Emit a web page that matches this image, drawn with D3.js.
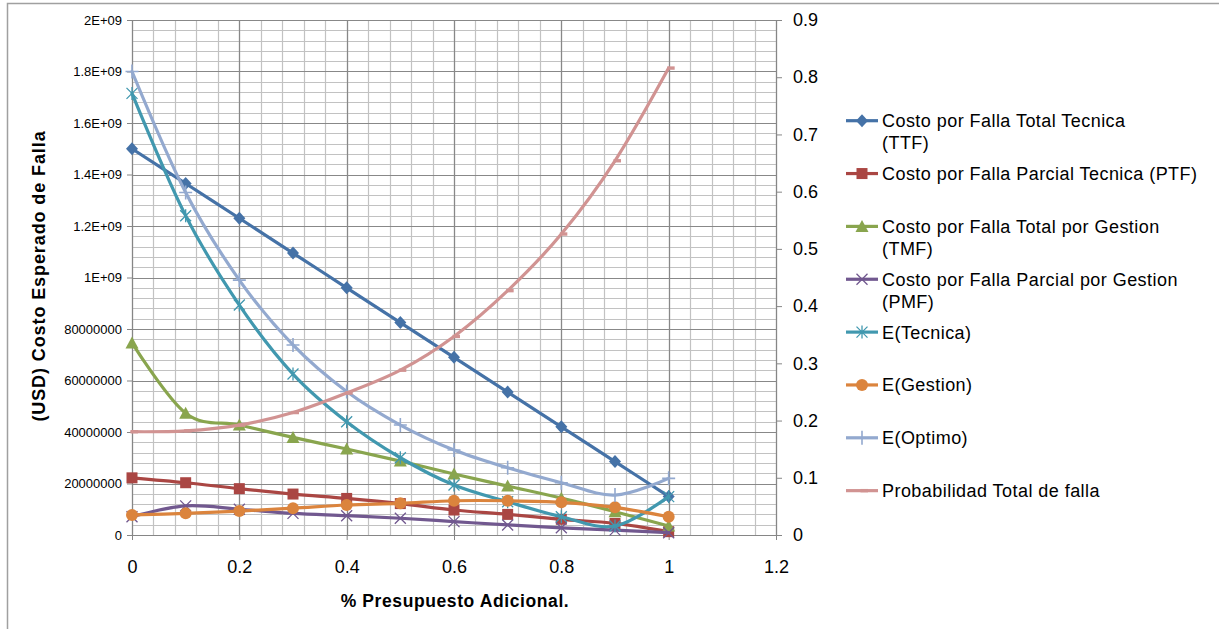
<!DOCTYPE html>
<html>
<head>
<meta charset="utf-8">
<script src="https://cdn.jsdelivr.net/npm/d3@7"></script>
<style>
  html, body { margin: 0; padding: 0; background: #fff; }
  svg { display: block; font-family: "Liberation Sans", Arial, sans-serif; }
</style>
</head>
<body>
<svg id="chart" width="1219" height="629"></svg>
<script>
// ---------- data ----------
const xValues = [0, 0.1, 0.2, 0.3, 0.4, 0.5, 0.6, 0.7, 0.8, 0.9, 1.0];

const ttf    = [1.50e9, 1.365e9, 1.23e9, 1.095e9, 0.96e9, 0.825e9, 0.69e9, 0.555e9, 0.42e9, 0.285e9, 0.15e9];
const ptf    = [2.22e8, 2.03e8, 1.80e8, 1.59e8, 1.42e8, 1.22e8, 0.97e8, 0.80e8, 0.61e8, 0.45e8, 0.13e8];
const tmf    = [7.46e8, 4.73e8, 4.27e8, 3.79e8, 3.34e8, 2.87e8, 2.37e8, 1.90e8, 1.43e8, 0.905e8, 0.35e8];
const pmf    = [0.71e8, 1.13e8, 1.00e8, 0.84e8, 0.75e8, 0.65e8, 0.52e8, 0.39e8, 0.28e8, 0.19e8, 0.09e8];
const eTec   = [1.715e9, 1.24e9, 0.893e9, 0.625e9, 0.44e9, 0.30e9, 0.194e9, 0.129e9, 0.071e9, 0.035e9, 0.149e9];
const eGes   = [0.78e8, 0.84e8, 0.93e8, 1.04e8, 1.165e8, 1.23e8, 1.33e8, 1.33e8, 1.27e8, 1.075e8, 0.71e8];
const eOpt   = [1.80e9, 1.33e9, 0.99e9, 0.738e9, 0.557e9, 0.427e9, 0.33e9, 0.261e9, 0.203e9, 0.155e9, 0.22e9];
const probTotal = [0.1805, 0.182, 0.192, 0.214, 0.248, 0.288, 0.347, 0.427, 0.526, 0.654, 0.816];

const seriesNames = [
  ["Costo por Falla Total Tecnica", "(TTF)"],
  ["Costo por Falla Parcial Tecnica (PTF)"],
  ["Costo por Falla Total por Gestion", "(TMF)"],
  ["Costo por Falla Parcial por Gestion", "(PMF)"],
  ["E(Tecnica)"],
  ["E(Gestion)"],
  ["E(Optimo)"],
  ["Probabilidad Total de falla"]
];

const leftTickValues = [0, 2e8, 4e8, 6e8, 8e8, 1e9, 1.2e9, 1.4e9, 1.6e9, 1.8e9, 2e9];
const leftTickLabels = ["0", "20000000", "40000000", "60000000", "80000000", "1E+09", "1.2E+09", "1.4E+09", "1.6E+09", "1.8E+09", "2E+09"];
const rightTickValues = [0, 0.1, 0.2, 0.3, 0.4, 0.5, 0.6, 0.7, 0.8, 0.9];
const rightTickLabels = ["0", "0.1", "0.2", "0.3", "0.4", "0.5", "0.6", "0.7", "0.8", "0.9"];
const xTickValues = [0, 0.2, 0.4, 0.6, 0.8, 1.0, 1.2];
const xTickLabels = ["0", "0.2", "0.4", "0.6", "0.8", "1", "1.2"];

const yTitle = "(USD) Costo Esperado de Falla";
const xTitle = "% Presupuesto Adicional.";

// ---------- styles ----------
const styles = [
  { color: "#4572A7", marker: "diamond", axis: "left" },
  { color: "#AA4643", marker: "square", axis: "left" },
  { color: "#89A54E", marker: "triangle", axis: "left" },
  { color: "#71588F", marker: "x", axis: "left" },
  { color: "#4198AF", marker: "star", axis: "left" },
  { color: "#DB843D", marker: "circle", axis: "left" },
  { color: "#93A9CF", marker: "plus", axis: "left" },
  { color: "#D19392", marker: "dash", axis: "right" }
];
const seriesData = [ttf, ptf, tmf, pmf, eTec, eGes, eOpt, probTotal];

// ---------- layout ----------
const svg = d3.select("#chart");
const L = 132, R = 776, T = 20, B = 535;

const x = d3.scaleLinear().domain([0, 1.2]).range([L, R]);
const yL = d3.scaleLinear().domain([0, 2e9]).range([B, T]);
const yR = d3.scaleLinear().domain([0, 0.9]).range([B, T]);

// outer frame
svg.append("rect").attr("x", 7.5).attr("y", 3.5).attr("width", 1400).attr("height", 800)
  .attr("fill", "#fff").attr("stroke", "#a0a0a0").attr("stroke-width", 1.5);

// grid
const grid = svg.append("g");
const minorX = d3.range(0, 1.2001, 0.04);
const minorY = d3.range(0, 2e9 + 1, 4e7);
grid.selectAll("line.mx").data(minorX).join("line")
  .attr("x1", d => Math.round(x(d)) + 0.5).attr("x2", d => Math.round(x(d)) + 0.5)
  .attr("y1", T).attr("y2", B).attr("stroke", "#c2c2c2").attr("stroke-width", 1.2);
grid.selectAll("line.my").data(minorY).join("line")
  .attr("y1", d => Math.round(yL(d)) + 0.5).attr("y2", d => Math.round(yL(d)) + 0.5)
  .attr("x1", L).attr("x2", R).attr("stroke", "#c2c2c2").attr("stroke-width", 1.2);
grid.selectAll("line.Mx").data(xTickValues).join("line")
  .attr("x1", d => Math.round(x(d)) + 0.5).attr("x2", d => Math.round(x(d)) + 0.5)
  .attr("y1", T).attr("y2", B).attr("stroke", "#888").attr("stroke-width", 1.2);
grid.selectAll("line.My").data(leftTickValues).join("line")
  .attr("y1", d => Math.round(yL(d)) + 0.5).attr("y2", d => Math.round(yL(d)) + 0.5)
  .attr("x1", L).attr("x2", R).attr("stroke", "#888").attr("stroke-width", 1.2);

// axes
function styleAxis(g) {
  g.selectAll(".domain").attr("stroke", "#868686");
  g.selectAll(".tick line").attr("stroke", "#868686");
  g.selectAll("text").attr("fill", "#000");
}
const axL = svg.append("g").attr("transform", `translate(${L},0)`)
  .call(d3.axisLeft(yL).tickValues(leftTickValues).tickFormat((d, i) => leftTickLabels[i]).tickSize(5).tickPadding(5).tickSizeOuter(0));
axL.attr("font-size", 13).attr("font-family", null);
styleAxis(axL);

const axR = svg.append("g").attr("transform", `translate(${R},0)`)
  .call(d3.axisRight(yR).tickValues(rightTickValues).tickFormat((d, i) => rightTickLabels[i]).tickSize(6).tickPadding(11).tickSizeOuter(0));
axR.attr("font-size", 18).attr("font-family", null);
styleAxis(axR);

const axB = svg.append("g").attr("transform", `translate(0,${B})`)
  .call(d3.axisBottom(x).tickValues(xTickValues).tickFormat((d, i) => xTickLabels[i]).tickSize(5).tickPadding(20).tickSizeOuter(0));
axB.attr("font-size", 18).attr("font-family", null);
styleAxis(axB);

// titles
svg.append("text").attr("transform", "translate(45,276) rotate(-90)")
  .attr("text-anchor", "middle").attr("font-weight", "bold").attr("font-size", 18)
  .attr("letter-spacing", 0.9).text(yTitle);
svg.append("text").attr("x", 455).attr("y", 607)
  .attr("text-anchor", "middle").attr("font-weight", "bold").attr("font-size", 17.5)
  .attr("letter-spacing", 0.6).text(xTitle);

// markers
function drawMarker(g, type, cx, cy, color) {
  switch (type) {
    case "diamond":
      g.append("path").attr("d", `M${cx},${cy-6.5}L${cx+6},${cy}L${cx},${cy+6.5}L${cx-6},${cy}Z`).attr("fill", color);
      break;
    case "square":
      g.append("rect").attr("x", cx-5.5).attr("y", cy-5.5).attr("width", 11).attr("height", 11).attr("fill", color);
      break;
    case "triangle":
      g.append("path").attr("d", `M${cx},${cy-6.5}L${cx+6.5},${cy+5.5}L${cx-6.5},${cy+5.5}Z`).attr("fill", color);
      break;
    case "x":
      g.append("path").attr("d", `M${cx-5.5},${cy-5.5}L${cx+5.5},${cy+5.5}M${cx-5.5},${cy+5.5}L${cx+5.5},${cy-5.5}`)
        .attr("stroke", color).attr("stroke-width", 1.3).attr("fill", "none");
      break;
    case "star":
      g.append("path").attr("d", `M${cx-5.5},${cy-5.5}L${cx+5.5},${cy+5.5}M${cx-5.5},${cy+5.5}L${cx+5.5},${cy-5.5}M${cx},${cy-6.5}L${cx},${cy+6.5}`)
        .attr("stroke", color).attr("stroke-width", 1.3).attr("fill", "none");
      break;
    case "circle":
      g.append("circle").attr("cx", cx).attr("cy", cy).attr("r", 6).attr("fill", color);
      break;
    case "plus":
      g.append("path").attr("d", `M${cx-6.5},${cy}L${cx+6.5},${cy}M${cx},${cy-7}L${cx},${cy+7}`)
        .attr("stroke", color).attr("stroke-width", 1.6).attr("fill", "none");
      break;
    case "dash":
      g.append("rect").attr("x", cx-1.5).attr("y", cy-1.7).attr("width", 7.5).attr("height", 3.4).attr("fill", color);
      break;
  }
}

// series
const plot = svg.append("g");
seriesData.forEach((vals, si) => {
  const st = styles[si];
  const ys = st.axis === "left" ? yL : yR;
  const pts = xValues.map((xv, i) => [x(xv), ys(vals[i])]);
  const line = d3.line().curve(d3.curveCardinal.tension(0));
  const g = plot.append("g");
  g.append("path").attr("d", line(pts)).attr("fill", "none")
    .attr("stroke", st.color).attr("stroke-width", 3.2).attr("stroke-linejoin", "round").attr("stroke-linecap", "round");
  pts.forEach(p => drawMarker(g, st.marker, p[0], p[1], st.color));
});

// legend
const legend = svg.append("g");
const legY0 = 120.7, legStep = 52.85;
seriesNames.forEach((lines, i) => {
  const st = styles[i];
  const cy = legY0 + i * legStep;
  const g = legend.append("g");
  g.append("line").attr("x1", 846).attr("x2", 878).attr("y1", cy).attr("y2", cy)
    .attr("stroke", st.color).attr("stroke-width", 3.2);
  drawMarker(g, st.marker, 862, cy, st.color);
  const t = g.append("text").attr("x", 882).attr("y", cy + 6.4).attr("font-size", 18).attr("letter-spacing", 0.45).attr("fill", "#000");
  lines.forEach((ln, k) => {
    t.append("tspan").attr("x", 882).attr("dy", k === 0 ? 0 : 22).text(ln);
  });
});
</script>
</body>
</html>
